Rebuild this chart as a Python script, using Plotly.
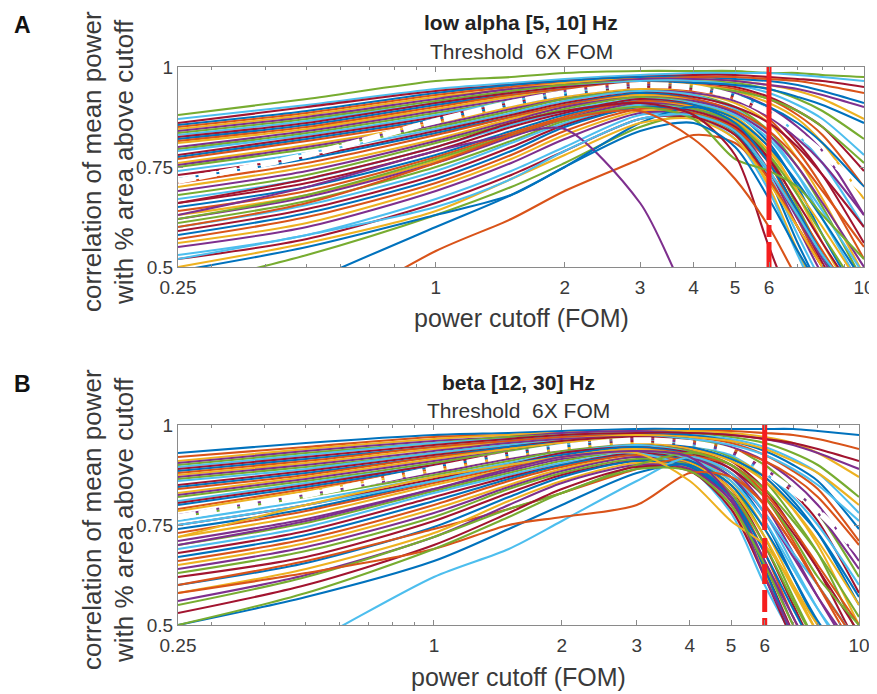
import math
import plotly.graph_objects as go

# ---------------- data ----------------
cutoff_fom = [0.25, 0.5, 1, 1.5, 2, 3, 4, 5, 6, 7, 8, 10]

low_alpha_curves = [
    [0.88, 0.92, 0.965, 0.975, 0.985, 0.99, 0.99, 0.99, 0.985, 0.985, 0.98, 0.975],
    [0.87, 0.905, 0.945, 0.96, 0.97, 0.98, 0.985, 0.985, 0.985, 0.98, 0.975, 0.965],
    [0.86, 0.9, 0.94, 0.955, 0.965, 0.975, 0.98, 0.98, 0.975, 0.97, 0.965, 0.95],
    [0.855, 0.89, 0.935, 0.955, 0.965, 0.975, 0.975, 0.97, 0.965, 0.955, 0.94, 0.91],
    [0.85, 0.885, 0.93, 0.95, 0.96, 0.97, 0.975, 0.975, 0.97, 0.965, 0.955, 0.935],
    [0.845, 0.88, 0.925, 0.945, 0.96, 0.97, 0.97, 0.965, 0.955, 0.94, 0.92, 0.87],
    [0.84, 0.875, 0.92, 0.945, 0.955, 0.97, 0.97, 0.965, 0.955, 0.945, 0.93, 0.9],
    [0.835, 0.87, 0.915, 0.94, 0.955, 0.965, 0.965, 0.96, 0.945, 0.92, 0.89, 0.82],
    [0.83, 0.865, 0.91, 0.935, 0.95, 0.965, 0.965, 0.955, 0.935, 0.905, 0.87, 0.78],
    [0.825, 0.86, 0.91, 0.935, 0.95, 0.96, 0.96, 0.95, 0.925, 0.89, 0.85, 0.74],
    [0.82, 0.855, 0.905, 0.93, 0.945, 0.96, 0.96, 0.955, 0.945, 0.925, 0.905, 0.86],
    [0.815, 0.85, 0.9, 0.93, 0.945, 0.96, 0.955, 0.945, 0.92, 0.88, 0.83, 0.7],
    [0.81, 0.845, 0.895, 0.925, 0.94, 0.955, 0.955, 0.94, 0.91, 0.87, 0.81, 0.67],
    [0.80, 0.84, 0.89, 0.92, 0.94, 0.955, 0.95, 0.935, 0.9, 0.85, 0.79, 0.63],
    [0.795, 0.835, 0.885, 0.915, 0.935, 0.95, 0.95, 0.94, 0.92, 0.89, 0.85, 0.76],
    [0.79, 0.83, 0.88, 0.915, 0.935, 0.95, 0.945, 0.93, 0.89, 0.83, 0.76, 0.6],
    [0.78, 0.825, 0.875, 0.91, 0.93, 0.95, 0.945, 0.925, 0.88, 0.81, 0.73, 0.56],
    [0.775, 0.82, 0.87, 0.905, 0.93, 0.945, 0.94, 0.93, 0.9, 0.86, 0.81, 0.7],
    [0.77, 0.815, 0.865, 0.9, 0.925, 0.945, 0.94, 0.92, 0.87, 0.79, 0.7, 0.52],
    [0.76, 0.805, 0.86, 0.9, 0.925, 0.945, 0.935, 0.91, 0.86, 0.77, 0.67, 0.48],
    [0.755, 0.8, 0.855, 0.895, 0.92, 0.94, 0.935, 0.915, 0.875, 0.82, 0.76, 0.63],
    [0.75, 0.795, 0.85, 0.89, 0.92, 0.94, 0.93, 0.9, 0.84, 0.75, 0.65, 0.46],
    [0.74, 0.785, 0.845, 0.885, 0.915, 0.94, 0.93, 0.895, 0.83, 0.73, 0.62, 0.44],
    [0.73, 0.775, 0.84, 0.88, 0.91, 0.935, 0.925, 0.9, 0.86, 0.8, 0.73, 0.6],
    [0.72, 0.77, 0.835, 0.875, 0.905, 0.935, 0.92, 0.885, 0.81, 0.7, 0.58, 0.4],
    [0.71, 0.76, 0.83, 0.875, 0.905, 0.93, 0.92, 0.89, 0.84, 0.77, 0.69, 0.55],
    [0.70, 0.75, 0.82, 0.87, 0.9, 0.93, 0.915, 0.875, 0.8, 0.68, 0.56, 0.38],
    [0.69, 0.74, 0.815, 0.865, 0.9, 0.925, 0.915, 0.885, 0.83, 0.75, 0.66, 0.5],
    [0.68, 0.73, 0.81, 0.86, 0.895, 0.925, 0.91, 0.87, 0.78, 0.65, 0.53, 0.36],
    [0.67, 0.72, 0.8, 0.855, 0.89, 0.92, 0.91, 0.88, 0.82, 0.73, 0.64, 0.48],
    [0.66, 0.71, 0.79, 0.85, 0.885, 0.92, 0.905, 0.86, 0.77, 0.63, 0.51, 0.34],
    [0.65, 0.70, 0.78, 0.84, 0.88, 0.915, 0.905, 0.87, 0.8, 0.71, 0.62, 0.46],
    [0.64, 0.69, 0.775, 0.835, 0.875, 0.915, 0.9, 0.855, 0.76, 0.62, 0.5, 0.33],
    [0.63, 0.68, 0.765, 0.83, 0.87, 0.91, 0.9, 0.865, 0.79, 0.69, 0.6, 0.44],
    [0.62, 0.675, 0.76, 0.825, 0.87, 0.91, 0.895, 0.85, 0.74, 0.6, 0.48, 0.32],
    [0.61, 0.665, 0.75, 0.815, 0.865, 0.905, 0.895, 0.86, 0.78, 0.68, 0.58, 0.42],
    [0.60, 0.655, 0.74, 0.81, 0.86, 0.905, 0.89, 0.845, 0.73, 0.58, 0.46, 0.3],
    [0.59, 0.645, 0.73, 0.8, 0.855, 0.9, 0.89, 0.85, 0.77, 0.66, 0.56, 0.4],
    [0.58, 0.635, 0.72, 0.79, 0.85, 0.9, 0.885, 0.835, 0.72, 0.56, 0.44, 0.3],
    [0.57, 0.625, 0.71, 0.78, 0.84, 0.895, 0.885, 0.845, 0.76, 0.64, 0.54, 0.38],
    [0.56, 0.61, 0.7, 0.77, 0.83, 0.89, 0.88, 0.83, 0.7, 0.54, 0.42, 0.3],
    [0.55, 0.6, 0.69, 0.76, 0.82, 0.885, 0.88, 0.84, 0.74, 0.62, 0.52, 0.36],
    [0.45, 0.53, 0.63, 0.7, 0.76, 0.85, 0.88, 0.84, 0.74, 0.63, 0.53, 0.38],
    [0.53, 0.58, 0.67, 0.74, 0.8, 0.88, 0.875, 0.82, 0.69, 0.53, 0.41, 0.3],
    [0.52, 0.57, 0.66, 0.73, 0.79, 0.87, 0.875, 0.83, 0.72, 0.6, 0.5, 0.35],
    [0.3, 0.46, 0.6, 0.68, 0.75, 0.86, 0.9, 0.86, 0.76, 0.64, 0.53, 0.38],
    [0.2, 0.36, 0.54, 0.62, 0.69, 0.77, 0.83, 0.81, 0.72, 0.6, 0.5, 0.36],
    [0.5, 0.56, 0.64, 0.72, 0.78, 0.86, 0.87, 0.82, 0.71, 0.6, 0.5, 0.36],
    [0.63, 0.7, 0.79, 0.83, 0.845, 0.66, 0.4, 0.3, 0.3, 0.3, 0.3, 0.3],
    [0.62, 0.68, 0.77, 0.83, 0.87, 0.9, 0.87, 0.77, 0.74, 0.7, 0.63, 0.52],
    [0.52, 0.58, 0.65, 0.72, 0.79, 0.87, 0.88, 0.84, 0.74, 0.63, 0.53, 0.4],
    [0.66, 0.72, 0.8, 0.86, 0.89, 0.91, 0.88, 0.78, 0.55, 0.38, 0.3, 0.3],
    [0.49, 0.55, 0.63, 0.68, 0.75, 0.84, 0.86, 0.8, 0.67, 0.54, 0.44, 0.3],
    [0.6, 0.66, 0.76, 0.83, 0.87, 0.89, 0.82, 0.72, 0.6, 0.47, 0.38, 0.3],
]

beta_curves = [
    [0.93, 0.955, 0.975, 0.98, 0.985, 0.99, 0.99, 0.99, 0.99, 0.99, 0.985, 0.975],
    [0.92, 0.945, 0.97, 0.975, 0.98, 0.985, 0.985, 0.985, 0.98, 0.975, 0.965, 0.94],
    [0.91, 0.94, 0.965, 0.975, 0.98, 0.985, 0.985, 0.98, 0.97, 0.955, 0.93, 0.87],
    [0.905, 0.935, 0.96, 0.97, 0.98, 0.985, 0.98, 0.975, 0.965, 0.95, 0.93, 0.89],
    [0.9, 0.93, 0.955, 0.97, 0.975, 0.98, 0.98, 0.97, 0.955, 0.93, 0.9, 0.82],
    [0.895, 0.925, 0.955, 0.965, 0.975, 0.98, 0.975, 0.965, 0.945, 0.915, 0.88, 0.78],
    [0.89, 0.92, 0.95, 0.965, 0.975, 0.98, 0.98, 0.975, 0.965, 0.955, 0.94, 0.91],
    [0.885, 0.915, 0.945, 0.96, 0.97, 0.975, 0.975, 0.96, 0.935, 0.9, 0.86, 0.74],
    [0.88, 0.91, 0.945, 0.96, 0.97, 0.975, 0.97, 0.955, 0.925, 0.885, 0.84, 0.71],
    [0.875, 0.905, 0.94, 0.955, 0.965, 0.975, 0.97, 0.96, 0.94, 0.91, 0.88, 0.8],
    [0.87, 0.9, 0.935, 0.955, 0.965, 0.97, 0.965, 0.945, 0.91, 0.86, 0.8, 0.66],
    [0.865, 0.895, 0.93, 0.95, 0.96, 0.97, 0.965, 0.94, 0.9, 0.84, 0.78, 0.62],
    [0.86, 0.89, 0.93, 0.95, 0.96, 0.97, 0.965, 0.95, 0.925, 0.89, 0.85, 0.76],
    [0.85, 0.885, 0.925, 0.945, 0.96, 0.97, 0.96, 0.935, 0.89, 0.83, 0.76, 0.58],
    [0.845, 0.88, 0.92, 0.945, 0.955, 0.965, 0.96, 0.93, 0.88, 0.81, 0.73, 0.55],
    [0.84, 0.875, 0.92, 0.94, 0.955, 0.965, 0.96, 0.94, 0.91, 0.87, 0.82, 0.7],
    [0.83, 0.87, 0.915, 0.94, 0.955, 0.965, 0.955, 0.925, 0.87, 0.79, 0.7, 0.5],
    [0.825, 0.865, 0.91, 0.935, 0.95, 0.965, 0.955, 0.93, 0.89, 0.84, 0.78, 0.64],
    [0.82, 0.86, 0.905, 0.935, 0.95, 0.96, 0.95, 0.92, 0.86, 0.77, 0.68, 0.47],
    [0.81, 0.855, 0.9, 0.93, 0.95, 0.96, 0.95, 0.925, 0.88, 0.82, 0.75, 0.6],
    [0.805, 0.85, 0.9, 0.93, 0.945, 0.96, 0.945, 0.91, 0.84, 0.74, 0.64, 0.44],
    [0.80, 0.845, 0.895, 0.925, 0.945, 0.955, 0.945, 0.915, 0.87, 0.8, 0.73, 0.57],
    [0.79, 0.84, 0.89, 0.92, 0.94, 0.955, 0.94, 0.9, 0.82, 0.71, 0.6, 0.42],
    [0.785, 0.835, 0.885, 0.92, 0.94, 0.955, 0.94, 0.91, 0.86, 0.79, 0.71, 0.55],
    [0.775, 0.825, 0.88, 0.915, 0.935, 0.95, 0.935, 0.89, 0.8, 0.68, 0.57, 0.4],
    [0.77, 0.82, 0.875, 0.91, 0.935, 0.95, 0.935, 0.9, 0.84, 0.76, 0.68, 0.52],
    [0.76, 0.81, 0.87, 0.905, 0.93, 0.95, 0.93, 0.88, 0.78, 0.65, 0.54, 0.38],
    [0.75, 0.8, 0.865, 0.9, 0.93, 0.945, 0.93, 0.89, 0.82, 0.73, 0.64, 0.48],
    [0.74, 0.79, 0.86, 0.9, 0.925, 0.945, 0.925, 0.87, 0.76, 0.62, 0.5, 0.35],
    [0.73, 0.785, 0.855, 0.895, 0.92, 0.94, 0.925, 0.88, 0.8, 0.7, 0.6, 0.45],
    [0.72, 0.775, 0.85, 0.89, 0.92, 0.94, 0.92, 0.86, 0.74, 0.6, 0.48, 0.33],
    [0.71, 0.765, 0.84, 0.885, 0.915, 0.935, 0.92, 0.87, 0.78, 0.67, 0.57, 0.42],
    [0.70, 0.755, 0.835, 0.88, 0.91, 0.935, 0.915, 0.85, 0.72, 0.57, 0.45, 0.3],
    [0.69, 0.745, 0.83, 0.875, 0.905, 0.93, 0.915, 0.86, 0.76, 0.64, 0.54, 0.4],
    [0.68, 0.735, 0.82, 0.87, 0.9, 0.93, 0.91, 0.84, 0.7, 0.55, 0.43, 0.3],
    [0.67, 0.725, 0.81, 0.865, 0.9, 0.925, 0.91, 0.85, 0.74, 0.62, 0.51, 0.37],
    [0.66, 0.715, 0.8, 0.86, 0.895, 0.925, 0.905, 0.83, 0.68, 0.52, 0.4, 0.3],
    [0.65, 0.705, 0.79, 0.85, 0.89, 0.92, 0.905, 0.84, 0.72, 0.59, 0.48, 0.34],
    [0.64, 0.695, 0.78, 0.845, 0.885, 0.92, 0.9, 0.82, 0.66, 0.5, 0.38, 0.3],
    [0.63, 0.685, 0.77, 0.84, 0.88, 0.915, 0.9, 0.83, 0.7, 0.56, 0.45, 0.32],
    [0.75, 0.8, 0.86, 0.9, 0.92, 0.93, 0.89, 0.78, 0.6, 0.47, 0.37, 0.3],
    [0.62, 0.67, 0.76, 0.83, 0.875, 0.91, 0.895, 0.81, 0.64, 0.48, 0.36, 0.3],
    [0.60, 0.655, 0.745, 0.82, 0.87, 0.91, 0.895, 0.82, 0.68, 0.54, 0.43, 0.3],
    [0.6, 0.66, 0.74, 0.79, 0.83, 0.89, 0.92, 0.9, 0.83, 0.74, 0.65, 0.5],
    [0.58, 0.64, 0.73, 0.81, 0.86, 0.905, 0.89, 0.8, 0.63, 0.47, 0.35, 0.3],
    [0.56, 0.625, 0.72, 0.8, 0.855, 0.9, 0.89, 0.81, 0.66, 0.52, 0.41, 0.3],
    [0.55, 0.62, 0.72, 0.79, 0.83, 0.9, 0.93, 0.9, 0.82, 0.72, 0.62, 0.5],
    [0.3, 0.45, 0.62, 0.69, 0.76, 0.86, 0.92, 0.88, 0.78, 0.68, 0.6, 0.45],
    [0.53, 0.6, 0.7, 0.78, 0.84, 0.895, 0.885, 0.79, 0.62, 0.46, 0.35, 0.3],
    [0.5, 0.57, 0.66, 0.74, 0.8, 0.88, 0.9, 0.82, 0.64, 0.47, 0.36, 0.3],
    [0.58, 0.63, 0.69, 0.75, 0.77, 0.8, 0.88, 0.87, 0.8, 0.7, 0.6, 0.45],
    [0.72, 0.8, 0.87, 0.9, 0.92, 0.93, 0.86, 0.76, 0.7, 0.6, 0.5, 0.4],
    [0.7, 0.76, 0.84, 0.89, 0.92, 0.935, 0.92, 0.82, 0.62, 0.48, 0.38, 0.3],
    [0.5, 0.58, 0.69, 0.77, 0.83, 0.89, 0.885, 0.8, 0.65, 0.5, 0.39, 0.3],
]

low_alpha_mean = [0.715, 0.78, 0.865, 0.91, 0.935, 0.955, 0.948, 0.925, 0.885, 0.835, 0.785, 0.688]
beta_mean = [0.77, 0.825, 0.89, 0.925, 0.945, 0.962, 0.955, 0.935, 0.885, 0.835, 0.785, 0.68]

threshold_fom = 6
x_tick_vals = [0.25, 1, 2, 3, 4, 5, 6, 10]
x_tick_text = ["0.25", "1", "2", "3", "4", "5", "6", "10"]
x_minor_vals = [0.3, 0.4, 0.5, 0.6, 0.7, 0.8, 0.9, 7, 8, 9]
y_tick_vals = [0.5, 0.75, 1]
y_tick_text = ["0.5", "0.75", "1"]

panel_titles = ["low alpha [5, 10] Hz", "beta [12, 30] Hz"]
panel_subtitle = "Threshold  6X FOM"
panel_letters = ["A", "B"]
x_title = "power cutoff (FOM)"
y_title_lines = ["correlation of mean power", "with % area above cutoff"]

# ---------------- styling ----------------
# The page body has an 8px margin, so the figure is drawn 8px in from the window corner.
OFF = 8
W, H = 877 - OFF, 694 - OFF
palette = ["#0072BD", "#D95319", "#EDB120", "#7E2F8E", "#77AC30", "#4DBEEE", "#A2142F"]
FONT = "Liberation Sans, Arial, sans-serif"
TXT = "#3a3a3a"
AXC = "#8a8a8a"


def py(px):
    return 1 - (px - OFF) / H


def pxx(px):
    return (px - OFF) / W


panels = [
    dict(curves=low_alpha_curves, mean=low_alpha_mean, xa="x", ya="y",
         left=178, right=864, top=67, bottom=267, title_y=23, sub_y=51,
         xt_y=318, letter_y=25, offset=4,
         red_dash="153px,5px,12px,5px,40px"),
    dict(curves=beta_curves, mean=beta_mean, xa="x2", ya="y2",
         left=178, right=859, top=425, bottom=625, title_y=382, sub_y=410,
         xt_y=677, letter_y=384, offset=0,
         red_dash="105px,8px,20px,6px,20px,6px,22px,6px,30px"),
]

fig = go.Figure()
annotations = []
layout_axes = {}

for k, p in enumerate(panels):
    for i, c in enumerate(p["curves"]):
        fig.add_trace(go.Scatter(
            x=cutoff_fom, y=c, mode="lines", xaxis=p["xa"], yaxis=p["ya"],
            line=dict(color=palette[(i + p["offset"]) % 7], width=2.1, shape="spline", smoothing=0.8),
            hoverinfo="skip", showlegend=False))
    # mean curve: thick white dashes
    fig.add_trace(go.Scatter(
        x=cutoff_fom, y=p["mean"], mode="lines", xaxis=p["xa"], yaxis=p["ya"],
        line=dict(color="#ffffff", width=6, shape="spline", smoothing=0.8, dash="18px,3px"),
        hoverinfo="skip", showlegend=False))
    # threshold line (drawn from the top down)
    fig.add_trace(go.Scatter(
        x=[threshold_fom, threshold_fom], y=[1, 0.5], mode="lines", xaxis=p["xa"], yaxis=p["ya"],
        line=dict(color="#F51E1E", width=5, dash=p["red_dash"]),
        hoverinfo="skip", showlegend=False))

    xname = "xaxis" if k == 0 else "xaxis2"
    yname = "yaxis" if k == 0 else "yaxis2"
    layout_axes[xname] = dict(
        type="log", range=[math.log10(0.25), 1],
        domain=[pxx(p["left"]), pxx(p["right"])],
        anchor=p["ya"], automargin=False,
        showline=True, linecolor=AXC, linewidth=1.2, mirror="ticks",
        ticks="inside", ticklen=5, tickcolor=AXC, tickwidth=1,
        tickmode="array", tickvals=x_tick_vals, ticktext=x_tick_text,
        tickfont=dict(family=FONT, size=19, color=TXT), ticklabelstandoff=3,
        showgrid=False, zeroline=False,
        minor=dict(tickmode="array", tickvals=x_minor_vals, ticks="inside", ticklen=3,
                   tickcolor=AXC, showgrid=False),
    )
    layout_axes[yname] = dict(
        range=[0.5, 1], domain=[py(p["bottom"]), py(p["top"])],
        anchor=p["xa"], automargin=False,
        showline=True, linecolor=AXC, linewidth=1.2, mirror="ticks",
        ticks="inside", ticklen=5, tickcolor=AXC,
        tickmode="array", tickvals=y_tick_vals, ticktext=y_tick_text,
        tickfont=dict(family=FONT, size=19, color=TXT),
        showgrid=False, zeroline=False,
    )

    cx = pxx((p["left"] + p["right"]) / 2)
    ymid = (p["top"] + p["bottom"]) / 2 - 5
    annotations += [
        dict(text="<b>" + panel_titles[k] + "</b>", x=cx, y=py(p["title_y"]), xref="paper", yref="paper",
             showarrow=False, xanchor="center", yanchor="middle",
             font=dict(family=FONT, size=21, color="#222222")),
        dict(text=panel_subtitle, x=cx, y=py(p["sub_y"]), xref="paper", yref="paper",
             showarrow=False, xanchor="center", yanchor="middle",
             font=dict(family=FONT, size=21, color="#333333")),
        dict(text=x_title, x=cx, y=py(p["xt_y"]), xref="paper", yref="paper",
             showarrow=False, xanchor="center", yanchor="middle",
             font=dict(family=FONT, size=25, color=TXT)),
        dict(text=y_title_lines[0], x=pxx(92), y=py(ymid), xref="paper", yref="paper",
             showarrow=False, xanchor="center", yanchor="middle", textangle=-90,
             font=dict(family=FONT, size=26, color=TXT)),
        dict(text=y_title_lines[1], x=pxx(124), y=py(ymid), xref="paper", yref="paper",
             showarrow=False, xanchor="center", yanchor="middle", textangle=-90,
             font=dict(family=FONT, size=26, color=TXT)),
        dict(text="<b>" + panel_letters[k] + "</b>", x=pxx(22), y=py(p["letter_y"]), xref="paper", yref="paper",
             showarrow=False, xanchor="center", yanchor="middle",
             font=dict(family=FONT, size=23, color="#111111")),
    ]

fig.update_layout(
    width=W, height=H, margin=dict(l=0, r=0, t=0, b=0, pad=0),
    paper_bgcolor="white", plot_bgcolor="white",
    showlegend=False, annotations=annotations, **layout_axes,
)

fig.write_html("out.html")
